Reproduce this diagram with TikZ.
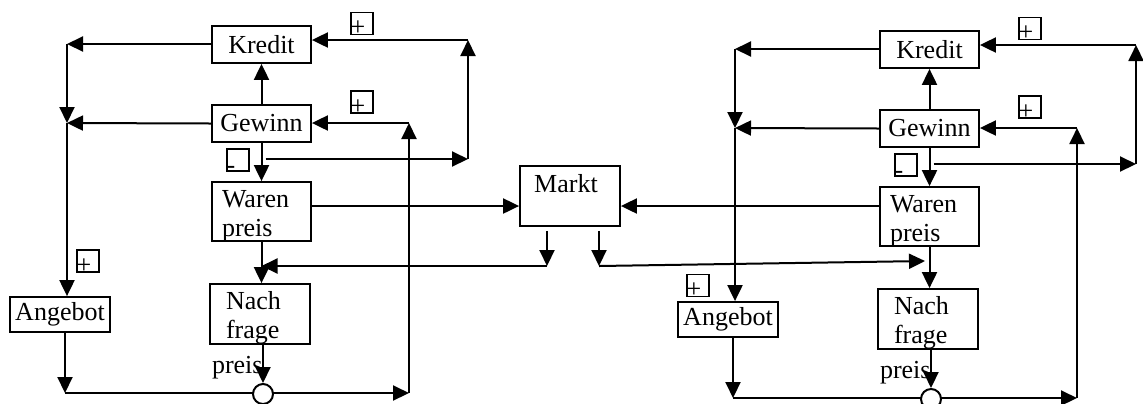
\documentclass[tikz,border=0pt]{standalone}
\usepackage{fontspec}
\setmainfont{Liberation Serif}
\usetikzlibrary{arrows.meta}

\begin{document}
\begin{tikzpicture}[x=0.5pt, y=-0.5pt, line width=1pt, >={Triangle[length=8pt,width=7.5pt]},
    every node/.style={font=\fontsize{13}{14.5}\selectfont, inner sep=0pt},
    box/.style={draw, line width=0.9pt, minimum width=49.5pt, minimum height=18.5pt, align=left},
    sbox/.style={draw, line width=0.8pt, minimum size=11pt},
    plus/.style={label={[xshift=-2pt, yshift=-2.5pt]center:+}},
    minus/.style={label={[xshift=-3.5pt, yshift=-4.8pt]center:-}},
    knot/.style={draw, circle, fill=white, minimum size=10pt}]
    \useasboundingbox (0,0) rectangle (1143,403);

    \node (kredit) at (261.5,44.5) [box] {Kredit};
    \node (gewinn) at (261.5,123.5) [box] {Gewinn};
    \node (waren) at (261.5,211.5) [box, minimum height=29.5pt] {};
    \node (warent) at (221,189) [anchor=north west, align=left] {Waren\\preis};
    \node (nach) at (260,314) [box, minimum width=50pt, minimum height=30pt] {};
    \node (nacht) at (225,290) [anchor=north west, align=left] {Nach\\frage};
    \node (nachp) at (211,373) [anchor=base west] {preis};
    \node (angebot) at (60,314.5) [box, minimum width=50pt, minimum height=17.5pt] {Angebot};

    \node (pk) at (362,23.5) [sbox, plus] {};
    \node (pg) at (362,102) [sbox, plus] {};
    \node (pa) at (88,261) [sbox, plus] {};
    \node (mg) at (238,160) [sbox, minus] {};

    \coordinate (k1) at (67,44);
    \coordinate (g1) at (67,123);
    \coordinate (b1) at (65,393);
    \coordinate (b2) at (409,393);
    \coordinate (g2) at (409,123);
    \coordinate (s2) at (468,159);
    \coordinate (k2) at (468,40);

    \draw[->] (kredit.west |- k1) -- (k1);
    \draw[->] (k1) -- (g1);
    \draw[->] (gewinn.west) -- (g1);
    \draw[->] (g1) -- (g1 |- angebot.north);
    \draw[->] (angebot.south -| b1) -- (b1);
    \draw[->] (b1) -- (b2);
    \draw[->] (b2) -- (g2);
    \draw[->] (g2) -- (gewinn.east |- g2);
    \draw[->] (gewinn) -- (kredit);
    \draw[->] (gewinn) -- (waren);
    \draw[->] ([xshift=2pt]gewinn.south |- s2) -- (s2);
    \draw[->] (s2) -- (k2);
    \draw[->] (k2) -- (k2 -| kredit.east);
    \draw[->] (waren.south) -- (waren.south |- nach.north);
    \node (kreis) at (263,394) [knot] {};
    \draw[->] (nach.south -| kreis) -- (kreis);

    \begin{scope}[shift={(668,5)}]
        \node (Kredit) at (261.5,44.5) [box] {Kredit};
        \node (Gewinn) at (261.5,123.5) [box] {Gewinn};
        \node (Waren) at (261.5,211.5) [box, minimum height=29.5pt] {};
        \node (Warent) at (221,189) [anchor=north west, align=left] {Waren\\preis};
        \node (Nach) at (260,314) [box, minimum width=50pt, minimum height=30pt] {};
        \node (Nacht) at (225,290) [anchor=north west, align=left] {Nach\\frage};
        \node (Nachp) at (211,373) [anchor=base west] {preis};
        \node (Angebot) at (60,314.5) [box, minimum width=50pt, minimum height=17.5pt] {Angebot};

        \node (Pk) at (362,23.5) [sbox, plus] {};
        \node (Pg) at (362,102) [sbox, plus] {};
        \node (Pa) at (30,280.5) [sbox, plus] {};
        \node (Mg) at (238,160) [sbox, minus] {};

        \coordinate (K1) at (67,44);
        \coordinate (G1) at (67,123);
        \coordinate (B1) at (65,393);
        \coordinate (B2) at (409,393);
        \coordinate (G2) at (409,123);
        \coordinate (S2) at (468,159);
        \coordinate (K2) at (468,40);

        \draw[->] (Kredit.west |- K1) -- (K1);
        \draw[->] (K1) -- (G1);
        \draw[->] (Gewinn.west) -- (G1);
        \draw[->] (G1) -- (G1 |- Angebot.north);
        \draw[->] (Angebot.south -| B1) -- (B1);
        \draw[->] (B1) -- (B2);
        \draw[->] (B2) -- (G2);
        \draw[->] (G2) -- (Gewinn.east |- G2);
        \draw[->] (Gewinn) -- (Kredit);
        \draw[->] (Gewinn) -- (Waren);
        \draw[->] ([xshift=2pt]Gewinn.south |- S2) -- (S2);
        \draw[->] (S2) -- (K2);
        \draw[->] (K2) -- (K2 -| Kredit.east);
        \draw[->] (Waren.south) -- (Waren.south |- Nach.north);
        \node (Kreis) at (263,394) [knot] {};
        \draw[->] (Nach.south -| Kreis) -- (Kreis);
    \end{scope}

    \node (markt) at (570,196) [box, minimum width=50pt, minimum height=30pt] {};
    \node (marktt) at (566,192) [anchor=base] {Markt};
    \coordinate (mw) at ([yshift=-5pt]markt.west);
    \coordinate (me) at ([yshift=-5pt]markt.east);
    \coordinate (ml) at (547,266);
    \coordinate (mr) at (599,266);
    \coordinate (wr) at (925,261);

    \draw[->] (waren.east |- mw) -- (mw);
    \draw[->] (Waren.west |- me) -- (me);
    \draw[->] ([yshift=-2pt]markt.south -| ml) -- (ml);
    \draw[->] ([yshift=-2pt]markt.south -| mr) -- (mr);
    \draw[->] (ml) -- (ml -| waren.south);
    \draw[->] (mr) -- (wr);
\end{tikzpicture}
\end{document}
